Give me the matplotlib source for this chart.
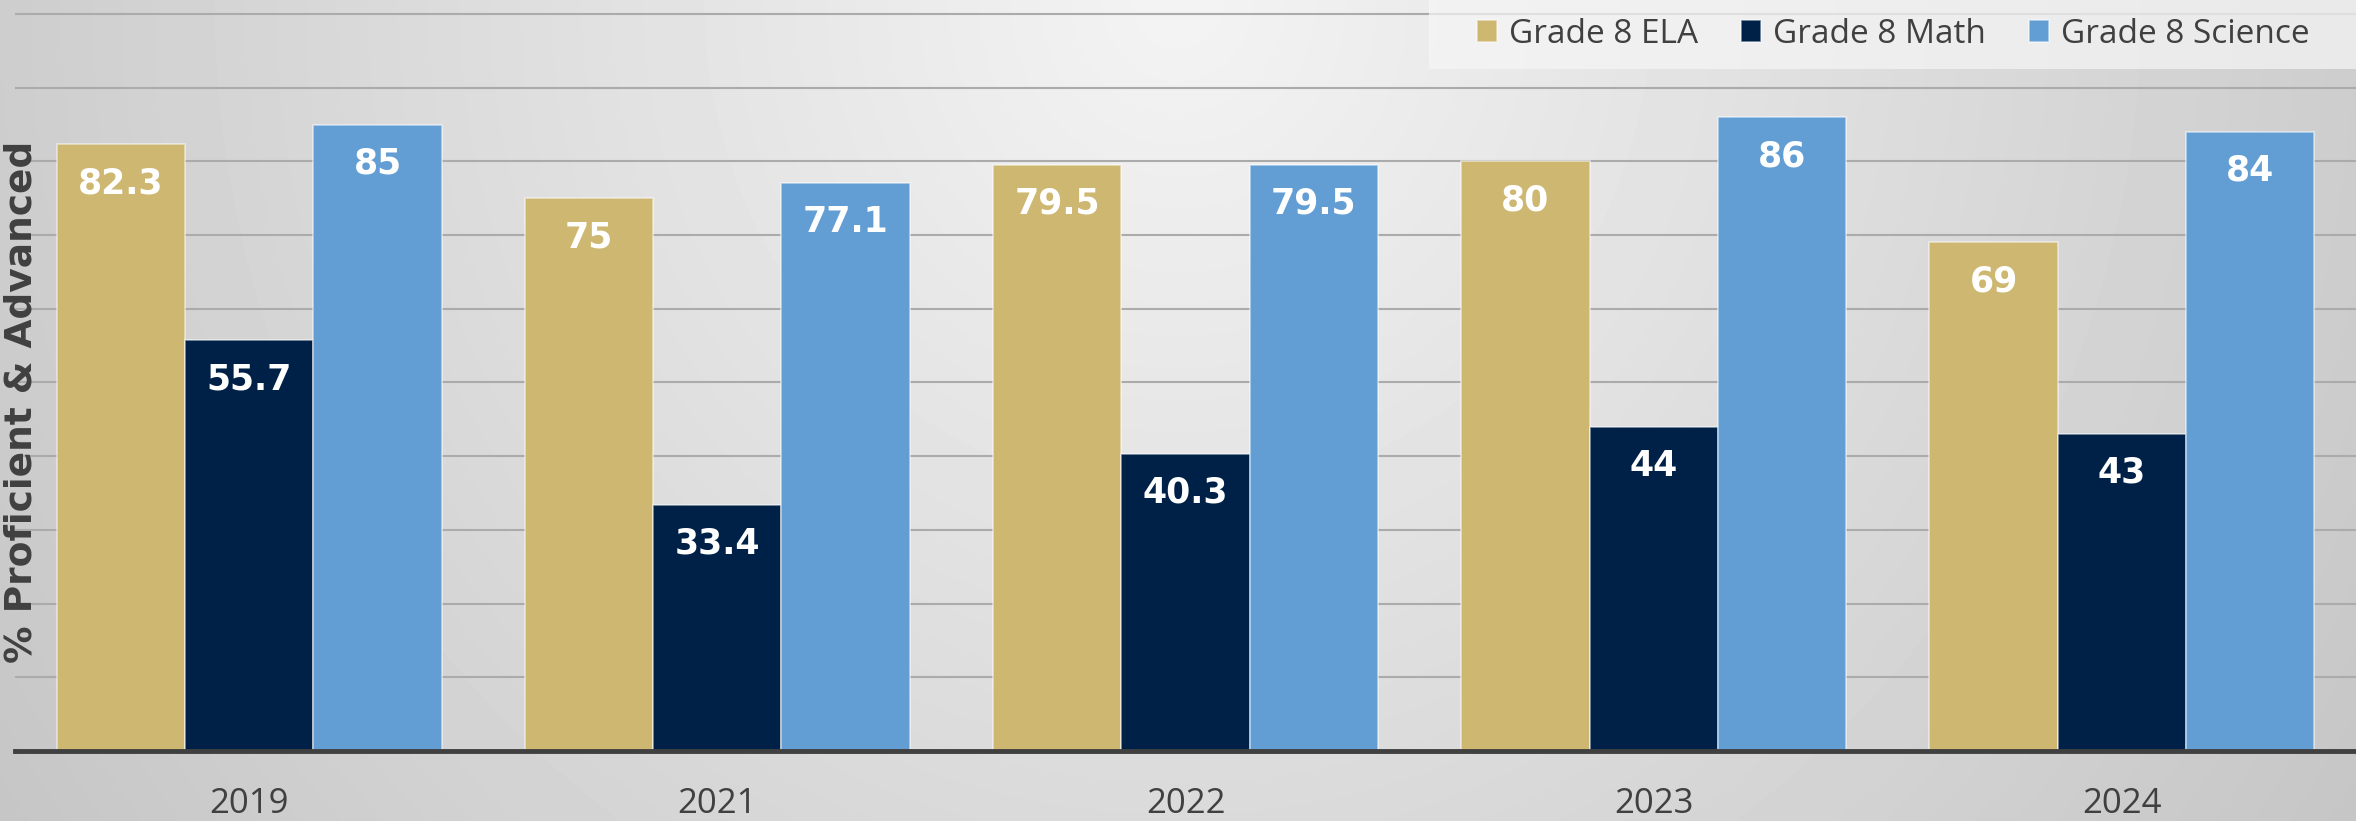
import numpy as np
import matplotlib
matplotlib.use("Agg")
import matplotlib.pyplot as plt
from matplotlib.patches import Rectangle

# data
years = ["2019", "2021", "2022", "2023", "2024"]
ela = [82.3, 75, 79.5, 80, 69]
math = [55.7, 33.4, 40.3, 44, 43]
science = [85, 77.1, 79.5, 86, 84]
series_names = ["Grade 8 ELA", "Grade 8 Math", "Grade 8 Science"]
colors = ["#CDB771", "#002147", "#629ED3"]

fig = plt.figure(figsize=(23.56, 8.21), dpi=100)

# gray gradient background, lightest at top centre
bg = fig.add_axes([0, 0, 1, 1], zorder=-5)
gx, gy = np.meshgrid(np.linspace(0, 1, 400), np.linspace(0, 1, 150))
d = np.sqrt(((gx - 0.5) / 0.5) ** 2 + ((gy - 1.0) / 1.5) ** 2)
shade = np.clip(0.955 - 0.15 * d, 0, 1)
bg.imshow(shade, cmap="gray", vmin=0, vmax=1, aspect="auto", origin="lower",
          extent=[0, 1, 0, 1], interpolation="bilinear")
bg.axis("off")

ax = fig.add_axes([0.0064, 0.0853, 0.9936, 0.9147])
ax.set_facecolor("none")

x = np.arange(len(years))
w = 0.274
for i, (vals, name, c) in enumerate(zip([ela, math, science], series_names, colors)):
    bars = ax.bar(x + (i - 1) * w, vals, w, color=c, label=name,
                  edgecolor=(1, 1, 1, 0.55), linewidth=1.2, zorder=3)
    for b, v in zip(bars, vals):
        ax.annotate(f"{v:g}", (b.get_x() + b.get_width() / 2, v),
                    xytext=(0, -28), textcoords="offset points",
                    ha="center", va="center", color="white",
                    fontsize=25, fontweight="bold", family="DejaVu Sans", zorder=4)

ax.set_xlim(-0.5, 4.5)
ax.set_ylim(0, 101.9)
ax.set_yticks(np.arange(10, 101, 10))
ax.yaxis.grid(True, color="#ababab", linewidth=1.5, zorder=0)
ax.tick_params(axis="y", length=0, labelleft=False)
ax.set_xticks(x)
ax.set_xticklabels(years, fontsize=25, color="#404040", family="Open Sans")
ax.tick_params(axis="x", length=0, pad=26)
for s in ["top", "right", "left"]:
    ax.spines[s].set_visible(False)
ax.spines["bottom"].set_color("#404040")
ax.spines["bottom"].set_linewidth(3.5)
ax.spines["bottom"].set_zorder(5)

fig.text(0.009, 0.51, "% Proficient & Advanced", rotation=90, ha="center",
         va="center", fontsize=27, fontweight="bold", color="#404040")

# legend box
fig.patches.append(Rectangle((1429 / 2356, 1 - 69 / 821), 927 / 2356, 69 / 821,
                             transform=fig.transFigure, facecolor="#f6f6f6",
                             alpha=0.7, edgecolor="none", zorder=6))
leg = fig.legend(loc="center", bbox_to_anchor=(0.8035, 0.9585), ncol=3,
                 frameon=False, borderaxespad=0, borderpad=0,
                 handlelength=0.6, handleheight=0.65, handletextpad=0.35,
                 columnspacing=1.3, prop={"family": "Open Sans", "size": 24})
leg.set_zorder(8)
for t in leg.get_texts():
    t.set_color("#404040")

fig.savefig("out.png", dpi=100)
